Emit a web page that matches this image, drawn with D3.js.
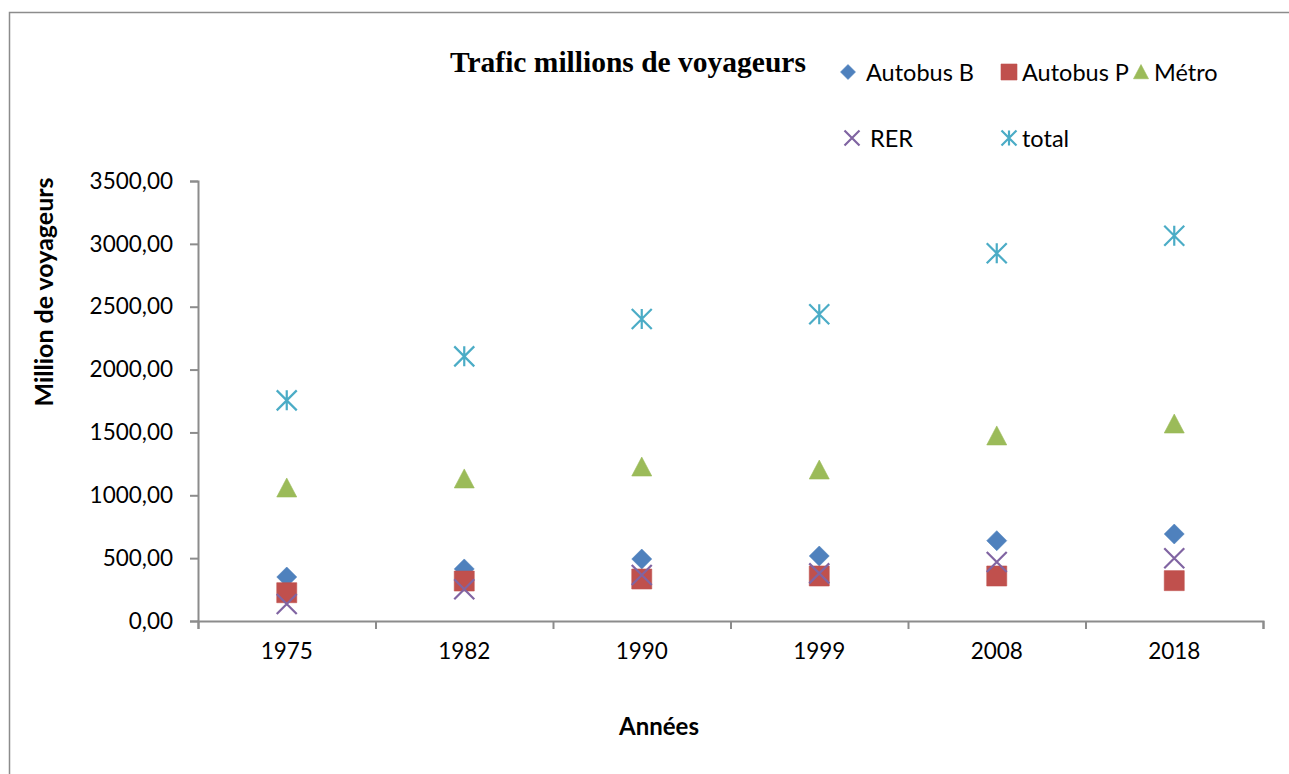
<!DOCTYPE html>
<html>
<head>
<meta charset="utf-8">
<script src="https://cdn.jsdelivr.net/npm/d3@7"></script>
<style>
    body { margin: 0; background: #fff; }
    svg { display: block; }
    .tick text { font-family: Lato, sans-serif; }
</style>
</head>
<body>
<svg width="1289" height="774"></svg>
<script>
const years = ["1975", "1982", "1990", "1999", "2008", "2018"];
const autobusB = [350, 414, 493, 517, 639, 692];
const autobusP = [225, 318, 334, 358, 358, 321];
const metro = [1058, 1130, 1225, 1201, 1472, 1567];
const rer = [135, 252, 366, 379, 469, 499];
const total = [1755, 2105, 2402, 2440, 2925, 3065];
const yTicks = [0, 500, 1000, 1500, 2000, 2500, 3000, 3500];

const series = [
    {name: "Autobus B", values: autobusB, color: "#4F81BD", shape: "diamond"},
    {name: "Autobus P", values: autobusP, color: "#C0504D", shape: "square"},
    {name: "Métro", values: metro, color: "#9BBB59", shape: "triangle"},
    {name: "RER", values: rer, color: "#8064A2", shape: "x"},
    {name: "total", values: total, color: "#4BACC6", shape: "star"}
];

const margin = {left: 198, right: 26, top: 181, bottom: 153};
const width = 1289, height = 774;
const svg = d3.select("svg");

// outer frame of the chart object
svg.append("rect")
    .attr("x", 9.5).attr("y", 12.5)
    .attr("width", 1300).attr("height", 800)
    .attr("fill", "none")
    .attr("stroke", "#8c8c8c")
    .attr("stroke-width", 1.5);

const x = d3.scaleBand()
    .domain(years)
    .range([margin.left, width - margin.right]);
const xEdge = d3.scaleLinear()
    .domain([0, years.length])
    .range([margin.left, width - margin.right]);
const y = d3.scaleLinear()
    .domain([0, 3500])
    .range([height - margin.bottom, margin.top]);

const fr = d3.formatLocale({decimal: ",", thousands: "", grouping: [3], currency: ["", ""]});
const fmt = fr.format(".2f");

// y axis
const yAxis = svg.append("g")
    .attr("transform", "translate(" + margin.left + ",0)")
    .call(d3.axisLeft(y).tickValues(yTicks).tickFormat(fmt).tickSize(8).tickPadding(17));
yAxis.selectAll("text").attr("font-size", 22.5).attr("fill", "#000");

// x axis: ticks on band edges, labels at centers
const xTickAxis = svg.append("g")
    .attr("transform", "translate(0," + y(0) + ")")
    .call(d3.axisBottom(xEdge).tickValues(d3.range(years.length + 1)).tickFormat("").tickSize(8));
const xLabelAxis = svg.append("g")
    .attr("transform", "translate(0," + y(0) + ")")
    .call(d3.axisBottom(x).tickSize(0).tickPadding(22));
xLabelAxis.select(".domain").remove();
xLabelAxis.selectAll("text").attr("font-size", 22.5).attr("fill", "#000");

svg.selectAll(".domain, .tick line")
    .attr("stroke", "#8c8c8c")
    .attr("stroke-width", 2);

function marker(shape, s) {
    const h = s / 2;
    switch (shape) {
        case "diamond":
            return `M0,${-h}L${h},0L0,${h}L${-h},0Z`;
        case "square":
            return `M${-h},${-h}H${h}V${h}H${-h}Z`;
        case "triangle":
            return `M0,${-h}L${h},${h * 0.9}L${-h},${h * 0.9}Z`;
        case "x":
            return `M${-h},${-h}L${h},${h}M${h},${-h}L${-h},${h}`;
        case "star":
            return `M${-h},${-h}L${h},${h}M${h},${-h}L${-h},${h}M0,${-h}V${h}`;
    }
}

function drawMarker(sel, d, s) {
    const stroked = d.shape === "x" || d.shape === "star";
    sel.attr("d", marker(d.shape, s))
        .attr("fill", stroked ? "none" : d.color)
        .attr("stroke", d.color)
        .attr("stroke-width", stroked ? 2.2 : 0.6);
}

series.forEach(s => {
    svg.append("g")
        .selectAll("path")
        .data(s.values)
        .join("path")
        .attr("transform", (v, i) => "translate(" + (x(years[i]) + x.bandwidth() / 2) + "," + y(v) + ")")
        .each(function() { drawMarker(d3.select(this), s, 20); });
});

// title
svg.append("text")
    .attr("x", 450).attr("y", 72)
    .attr("font-family", "'Liberation Serif', 'Times New Roman', serif")
    .attr("font-weight", "bold")
    .attr("font-size", 29.5)
    .text("Trafic millions de voyageurs");

// legend
const legendPos = [
    {x: 848, y: 72}, {x: 1009, y: 72}, {x: 1141, y: 72},
    {x: 852, y: 138}, {x: 1009, y: 138}
];
series.forEach((s, i) => {
    const p = legendPos[i];
    const g = svg.append("g").attr("transform", "translate(" + p.x + "," + p.y + ")");
    g.append("path").call(sel => drawMarker(sel, s, s.shape === "square" ? 16 : 15));
    g.append("text")
        .attr("x", s.shape === "diamond" || s.shape === "x" ? 18 : 13)
        .attr("y", 8.5)
        .attr("font-family", "Lato, sans-serif")
        .attr("font-size", 23.5)
        .text(s.name);
});

// axis titles
svg.append("text")
    .attr("transform", "translate(53,292) rotate(-90)")
    .attr("text-anchor", "middle")
    .attr("font-family", "Lato, sans-serif")
    .attr("font-weight", "bold")
    .attr("font-size", 25)
    .text("Million de voyageurs");
svg.append("text")
    .attr("x", 659).attr("y", 735)
    .attr("text-anchor", "middle")
    .attr("font-family", "Lato, sans-serif")
    .attr("font-weight", "bold")
    .attr("font-size", 24)
    .text("Années");
</script>
</body>
</html>
